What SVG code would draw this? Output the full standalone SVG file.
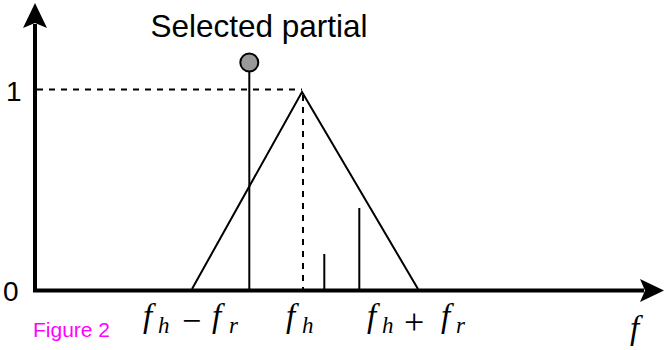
<svg xmlns="http://www.w3.org/2000/svg" width="666" height="350" viewBox="0 0 666 350">
<defs>
<style>
.ln{stroke:#000;stroke-width:2;fill:none}
.dash{stroke:#000;stroke-width:2;fill:none;stroke-dasharray:6 6}
.ax{stroke:#000;stroke-width:4;fill:none}
.lbl{font-family:"Liberation Sans",Arial,sans-serif;font-size:28px;fill:#000}
.math{font-family:"Liberation Serif","DejaVu Serif",serif;font-style:italic;font-size:33px;fill:#000}
.sub{font-size:23px}
.op{font-style:normal;font-size:30px}
</style>
</defs>
<rect width="666" height="350" fill="#fff"/>
<g id="connectors">
<line class="ax" x1="35" y1="292" x2="35" y2="24"/>
<polygon points="35,3 47,28 35,23 23,28" fill="#000"/>
<line class="ax" x1="33" y1="290.5" x2="644" y2="290.5"/>
<polygon points="664,290.5 640,302 645,290.5 640,279" fill="#000"/>
<line class="dash" x1="37" y1="89.5" x2="302" y2="89.5"/>
<line class="dash" x1="303" y1="95" x2="303" y2="289"/>
<polyline class="ln" points="192,289 302,92 418,289"/>
<line class="ln" x1="249.3" y1="71" x2="249.3" y2="289"/>
<line class="ln" x1="324.3" y1="254" x2="324.3" y2="289"/>
<line class="ln" x1="359.3" y1="208" x2="359.3" y2="289"/>
</g>
<g id="partial">
<circle cx="249.3" cy="62.5" r="9" fill="#999" stroke="#000" stroke-width="2"/>
<text class="lbl" x="259" y="37" text-anchor="middle" style="font-size:31.5px">Selected partial</text>
</g>
<g id="ticks">
<text class="lbl" x="6" y="101">1</text>
<text class="lbl" x="3" y="301">0</text>
</g>
<g id="xlabels">
<text class="math" y="327"><tspan x="143">f</tspan><tspan class="sub" x="158" y="333">h</tspan><tspan class="op" x="182" y="332" style="font-size:34px">−</tspan><tspan x="212" y="327">f</tspan><tspan class="sub" x="229" y="333">r</tspan></text>
<text class="math" y="327"><tspan x="286">f</tspan><tspan class="sub" x="302" y="333">h</tspan></text>
<text class="math" y="327"><tspan x="367">f</tspan><tspan class="sub" x="382" y="333">h</tspan><tspan class="op" x="404" y="334" style="font-size:36px">+</tspan><tspan x="441" y="327">f</tspan><tspan class="sub" x="456" y="333">r</tspan></text>
<text class="math" x="630" y="339">f</text>
</g>
<text x="33" y="337" font-family="'Liberation Sans',Arial,sans-serif" font-size="21" fill="#ff00ff">Figure 2</text>
</svg>
